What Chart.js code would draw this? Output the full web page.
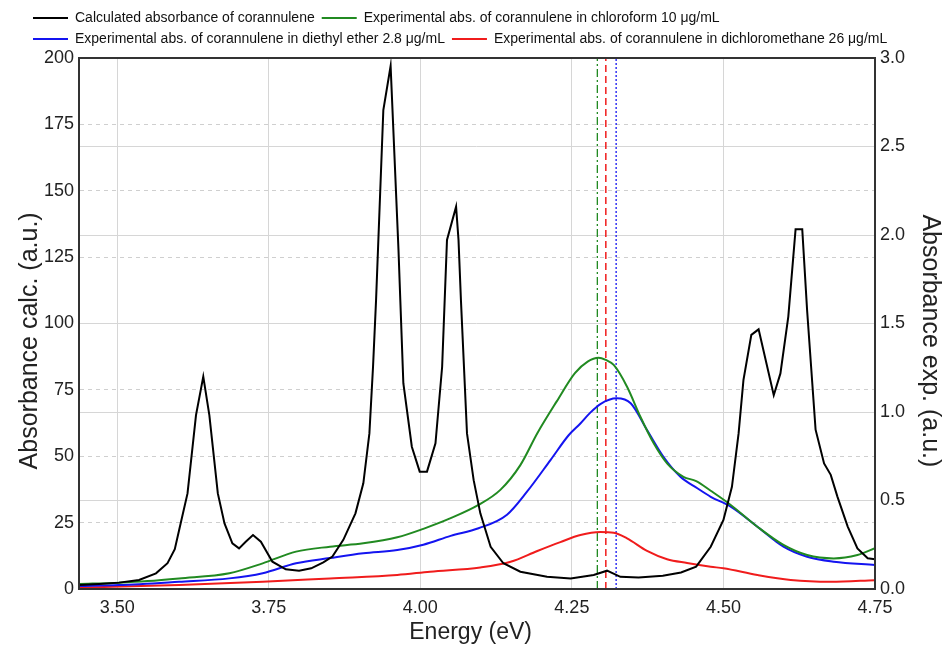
<!DOCTYPE html>
<html>
<head>
<meta charset="utf-8">
<script src="https://cdn.jsdelivr.net/npm/chart.js@4.4.1/dist/chart.umd.min.js"></script>
<style>
  body { margin: 0; background: #fff; }
  #wrap { width: 948px; height: 646px; }
</style>
</head>
<body>
<div id="wrap"><canvas id="chart" width="948" height="646"></canvas></div>
<script>
// Calculated absorbance (left axis, a.u.)
const calcEnergy = [3.437, 3.47, 3.503, 3.536, 3.564, 3.583, 3.595, 3.602, 3.616, 3.630, 3.642, 3.652, 3.666, 3.677, 3.690, 3.701, 3.712, 3.724, 3.737, 3.756, 3.778, 3.800, 3.820, 3.840, 3.855, 3.873, 3.893, 3.906, 3.916, 3.922, 3.927, 3.939, 3.951, 3.964, 3.967, 3.972, 3.986, 3.999, 4.011, 4.025, 4.036, 4.044, 4.059, 4.063, 4.067, 4.077, 4.088, 4.099, 4.116, 4.137, 4.165, 4.209, 4.248, 4.286, 4.308, 4.330, 4.36, 4.40, 4.43, 4.455, 4.479, 4.500, 4.514, 4.525, 4.533, 4.546, 4.558, 4.583, 4.594, 4.607, 4.619, 4.630, 4.638, 4.652, 4.666, 4.677, 4.688, 4.705, 4.721, 4.738, 4.750];
const calcAbs = [1.5, 1.9, 2.4, 3.4, 5.9, 9.7, 15, 22, 36, 65.5, 80, 65.5, 36, 24.7, 17.2, 15.3, 17.8, 20.3, 17.8, 10.3, 7.4, 6.9, 7.8, 10, 12.2, 18.5, 28.5, 39.8, 58.6, 83.7, 108.8, 180.4, 197, 127.7, 108.8, 77.5, 53.6, 44.2, 44.2, 54.9, 83.7, 131.5, 144, 131.5, 108.8, 58.6, 41, 28.5, 15.9, 9.7, 6.5, 4.6, 4.0, 5.3, 6.9, 4.6, 4.3, 5.0, 6.2, 8.4, 15.9, 26, 38.5, 58.6, 78.7, 95.7, 97.8, 73, 81.2, 102.6, 135.5, 135.5, 105, 60, 47.3, 43, 34.8, 23.5, 15.3, 11.6, 11.2];

// Experimental absorbance (right axis, a.u.)
const chlEnergy = [3.437, 3.503, 3.55, 3.602, 3.685, 3.740, 3.795, 3.851, 3.906, 3.962, 4.005, 4.050, 4.096, 4.132, 4.165, 4.193, 4.225, 4.255, 4.276, 4.294, 4.306, 4.319, 4.341, 4.363, 4.385, 4.407, 4.434, 4.455, 4.479, 4.512, 4.556, 4.599, 4.638, 4.682, 4.721, 4.750];
const chlAbs = [0.028, 0.036, 0.045, 0.06, 0.089, 0.145, 0.211, 0.239, 0.258, 0.292, 0.340, 0.400, 0.475, 0.56, 0.70, 0.88, 1.06, 1.22, 1.285, 1.307, 1.294, 1.266, 1.143, 0.973, 0.823, 0.71, 0.634, 0.61, 0.555, 0.475, 0.352, 0.249, 0.192, 0.173, 0.192, 0.23];

const etherEnergy = [3.437, 3.503, 3.602, 3.685, 3.740, 3.795, 3.851, 3.906, 3.962, 4.005, 4.050, 4.096, 4.143, 4.176, 4.215, 4.245, 4.264, 4.280, 4.297, 4.324, 4.347, 4.374, 4.401, 4.429, 4.457, 4.479, 4.512, 4.556, 4.599, 4.638, 4.682, 4.750];
const etherAbs = [0.017, 0.022, 0.041, 0.06, 0.089, 0.145, 0.175, 0.202, 0.22, 0.25, 0.30, 0.343, 0.42, 0.55, 0.73, 0.87, 0.935, 0.995, 1.045, 1.077, 1.049, 0.898, 0.747, 0.634, 0.569, 0.521, 0.465, 0.352, 0.239, 0.182, 0.154, 0.136];

const dcmEnergy = [3.437, 3.602, 3.740, 3.851, 3.962, 4.016, 4.099, 4.149, 4.193, 4.231, 4.264, 4.297, 4.319, 4.341, 4.374, 4.407, 4.440, 4.479, 4.500, 4.556, 4.611, 4.677, 4.750];
const dcmAbs = [0.007, 0.023, 0.041, 0.06, 0.079, 0.098, 0.122, 0.154, 0.215, 0.265, 0.305, 0.322, 0.318, 0.286, 0.215, 0.168, 0.147, 0.126, 0.117, 0.079, 0.051, 0.041, 0.05];

// Peak maxima of the experimental spectra (chloroform, dichloromethane, diethyl ether)
const peakEnergy = [4.292, 4.306, 4.323];

const labels = [
  'Calculated absorbance of corannulene',
  'Experimental abs. of corannulene in chloroform 10 \u03bcg/mL',
  'Experimental abs. of corannulene in diethyl ether 2.8 \u03bcg/mL',
  'Experimental abs. of corannulene in dichloromethane 26 \u03bcg/mL'
];

const GREEN = '#218a21';
const BLUE = '#1414f0';
const RED = '#f01c1c';
const FONT = "'Liberation Sans', Arial, sans-serif";

function toPoints(xs, ys) {
  return xs.map((x, i) => ({ x: x, y: ys[i] }));
}

function peakLine(e) {
  return [{ x: e, y: 0 }, { x: e, y: 3 }];
}

const lineBase = { pointRadius: 0, borderWidth: 2, fill: false };

// cadre complet autour de la zone de tracé
const framePlugin = {
  id: 'frame',
  afterDraw(chart) {
    const { ctx, chartArea: a } = chart;
    ctx.save();
    ctx.strokeStyle = '#333';
    ctx.lineWidth = 2;
    ctx.strokeRect(a.left, a.top, a.right - a.left, a.bottom - a.top);
    ctx.restore();
  }
};

// place la légende comme dans l'original
const legendShift = {
  id: 'legendShift',
  afterLayout(chart) {
    if (chart.legend) {
      chart.legend.left = 26;
      chart.legend.top = 4;
    }
  }
};

const ctx = document.getElementById('chart').getContext('2d');
new Chart(ctx, {
  type: 'line',
  data: {
    datasets: [
      { ...lineBase, label: labels[0], data: toPoints(calcEnergy, calcAbs), borderColor: '#000', backgroundColor: '#000', yAxisID: 'y', tension: 0 },
      { ...lineBase, label: labels[1], data: toPoints(chlEnergy, chlAbs), borderColor: GREEN, backgroundColor: GREEN, yAxisID: 'y1', cubicInterpolationMode: 'monotone' },
      { ...lineBase, label: labels[2], data: toPoints(etherEnergy, etherAbs), borderColor: BLUE, backgroundColor: BLUE, yAxisID: 'y1', cubicInterpolationMode: 'monotone' },
      { ...lineBase, label: labels[3], data: toPoints(dcmEnergy, dcmAbs), borderColor: RED, backgroundColor: RED, yAxisID: 'y1', cubicInterpolationMode: 'monotone' },
      { ...lineBase, label: 'peak chloroform', data: peakLine(peakEnergy[0]), borderColor: GREEN, borderWidth: 1.3, borderDash: [8, 3, 2, 3], yAxisID: 'y1' },
      { ...lineBase, label: 'peak dichloromethane', data: peakLine(peakEnergy[1]), borderColor: RED, borderWidth: 1.5, borderDash: [7, 4], yAxisID: 'y1' },
      { ...lineBase, label: 'peak diethyl ether', data: peakLine(peakEnergy[2]), borderColor: BLUE, borderWidth: 1.3, borderDash: [2, 2], yAxisID: 'y1' }
    ]
  },
  options: {
    responsive: false,
    animation: false,
    layout: { padding: { top: 6, left: 0, right: 0, bottom: 0 } },
    plugins: {
      tooltip: { enabled: false },
      legend: {
        position: 'top',
        align: 'start',
        labels: {
          usePointStyle: true,
          pointStyle: 'line',
          pointStyleWidth: 35,
          padding: 7,
          color: '#111',
          font: { family: FONT, size: 14 },
          filter: item => item.datasetIndex < 4
        }
      }
    },
    scales: {
      x: {
        type: 'linear',
        min: 3.437,
        max: 4.75,
        afterFit: s => { s.height = 57; },
        ticks: {
          stepSize: 0.25,
          includeBounds: false,
          padding: 8,
          color: '#222',
          font: { family: FONT, size: 18 },
          callback: v => v.toFixed(2)
        },
        grid: { color: '#d6d6d6', lineWidth: 1, drawTicks: false },
        border: { color: '#333', width: 2 },
        title: { display: true, text: 'Energy (eV)  ', color: '#222', font: { family: FONT, size: 23 }, padding: { top: 0, bottom: 0 } }
      },
      y: {
        position: 'left',
        min: 0,
        max: 200,
        afterFit: s => { s.width = 79; },
        ticks: { stepSize: 25, padding: 5, color: '#222', font: { family: FONT, size: 18 } },
        grid: { color: '#cfcfcf', lineWidth: 1, drawTicks: false },
        border: { color: '#333', width: 2, dash: [4, 4] },
        title: { display: true, text: 'Absorbance calc. (a.u.)     ', color: '#222', font: { family: FONT, size: 25 }, padding: { top: 15, bottom: 0 } }
      },
      y1: {
        position: 'right',
        min: 0,
        max: 3,
        afterFit: s => { s.width = 73; },
        ticks: { stepSize: 0.5, padding: 5, color: '#222', font: { family: FONT, size: 18 }, callback: v => v.toFixed(1) },
        grid: { color: '#d6d6d6', lineWidth: 1, drawTicks: false },
        border: { color: '#333', width: 2 },
        title: { display: true, text: '     Absorbance exp. (a.u.)', color: '#222', font: { family: FONT, size: 25 }, padding: { top: 3, bottom: 0 } }
      }
    }
  },
  plugins: [framePlugin, legendShift]
});
</script>
</body>
</html>
